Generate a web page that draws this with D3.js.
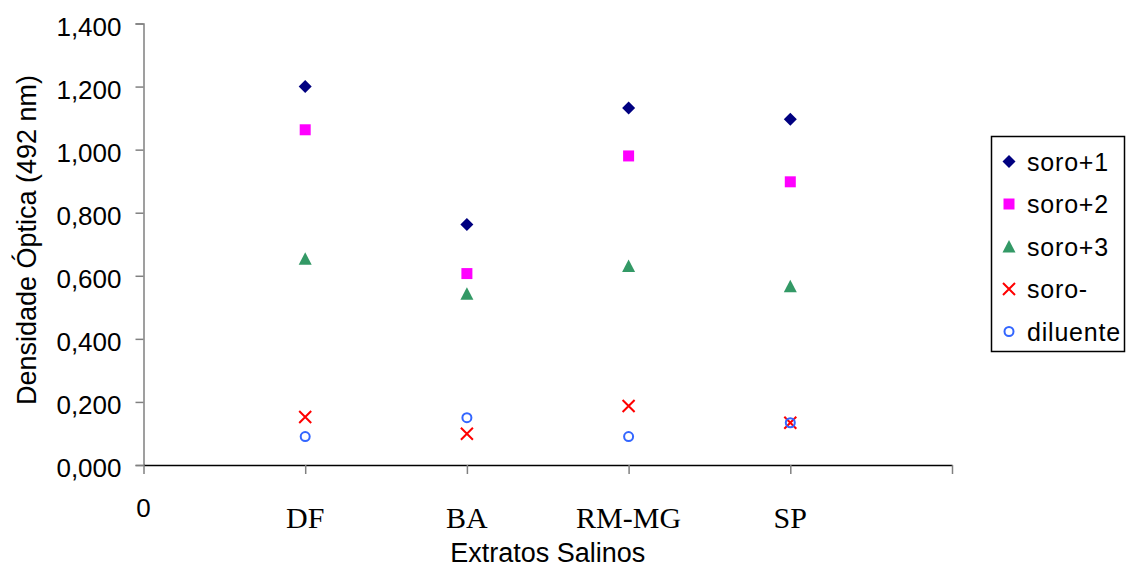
<!DOCTYPE html>
<html>
<head>
<meta charset="utf-8">
<script src="https://cdn.jsdelivr.net/npm/d3@7"></script>
<style>
  html, body { margin: 0; padding: 0; background: #fff; }
  svg { display: block; }
</style>
</head>
<body>
<svg id="chart" width="1126" height="567"></svg>
<script>
// ---- data ----
const categories = ["DF", "BA", "RM-MG", "SP"];
const seriesNames = ["soro+1", "soro+2", "soro+3", "soro-", "diluente"];
const soro1 = [1.200, 0.763, 1.132, 1.096];
const soro2 = [1.063, 0.607, 0.980, 0.898];
const soro3 = [0.654, 0.543, 0.631, 0.567];
const soroNeg = [0.152, 0.099, 0.187, 0.134];
const diluente = [0.090, 0.150, 0.090, 0.134];
const yTicks = [0, 0.2, 0.4, 0.6, 0.8, 1.0, 1.2, 1.4];
const xTicks = [0, 1, 2, 3, 4, 5];
const xZeroLabel = "0";
const yTitle = "Densidade Óptica (492 nm)";
const xTitle = "Extratos Salinos";

const seriesValues = [soro1, soro2, soro3, soroNeg, diluente];
const seriesStyle = [
  { sym: "diamond", color: "#000080", size: 13 },
  { sym: "square", color: "#FF00FF", size: 11 },
  { sym: "triangle", color: "#339966", size: 13 },
  { sym: "x", color: "#FF0000", size: 12 },
  { sym: "o", color: "#3366FF", size: 11 }
];

const SANS = "'Liberation Sans', Arial, sans-serif";
const SERIF = "'Liberation Serif', 'Times New Roman', serif";

const svg = d3.select("#chart");
const x = d3.scaleLinear().domain([0, 5]).range([143.5, 952]);
const y = d3.scaleLinear().domain([0, 1.4]).range([465, 23.5]);
const locale = d3.formatLocale({ decimal: ",", thousands: ".", grouping: [3], currency: ["", ""] });
const fmt = locale.format(".3f");

// y axis
const yAxis = svg.append("g").attr("transform", `translate(${x(0)},0)`)
  .call(d3.axisLeft(y).tickValues(yTicks).tickSize(8).tickFormat(fmt));
yAxis.select(".domain").attr("stroke", "#808080").attr("stroke-width", 1.5);
yAxis.selectAll(".tick line").attr("stroke", "#808080").attr("stroke-width", 1.5);
yAxis.selectAll(".tick text").style("font-family", SANS).style("font-size", "26px")
  .attr("fill", "#000").attr("dy", "0.45em").attr("x", -22);

// x axis
const xAxis = svg.append("g").attr("transform", `translate(0,${y(0)})`)
  .call(d3.axisBottom(x).tickValues(xTicks).tickSize(9).tickSizeOuter(0).tickFormat(""));
xAxis.select(".domain").attr("stroke", "#000").attr("stroke-width", 1.5);
xAxis.selectAll(".tick line").attr("stroke", "#808080").attr("stroke-width", 1.5);

// x labels
svg.append("text").attr("x", x(0)).attr("y", 517).attr("text-anchor", "middle")
  .style("font-family", SANS).style("font-size", "26px").text(xZeroLabel);
svg.selectAll(".cat").data(categories).join("text").attr("class", "cat")
  .attr("x", (d, i) => x(i + 1)).attr("y", 528).attr("text-anchor", "middle")
  .style("font-family", SERIF).style("font-size", "30px")
  .text(d => d);

// titles
svg.append("text").attr("x", (x(0) + x(5)) / 2).attr("y", 562).attr("text-anchor", "middle")
  .style("font-family", SANS).style("font-size", "27px").text(xTitle);
svg.append("text").attr("transform", "translate(36,240) rotate(-90)").attr("text-anchor", "middle")
  .style("font-family", SANS).style("font-size", "27px").text(yTitle);

// markers
function drawMarker(g, st) {
  const h = st.size / 2;
  if (st.sym === "x") {
    g.append("path").attr("d", `M${-h},${-h}L${h},${h}M${-h},${h}L${h},${-h}`)
      .attr("stroke", st.color).attr("stroke-width", 2).attr("fill", "none");
  } else if (st.sym === "o") {
    g.append("circle").attr("r", h - 1).attr("fill", "none")
      .attr("stroke", st.color).attr("stroke-width", 2);
  } else if (st.sym === "diamond") {
    g.append("path").attr("d", `M0,${-h}L${h},0L0,${h}L${-h},0Z`).attr("fill", st.color);
  } else if (st.sym === "square") {
    g.append("path").attr("d", `M${-h},${-h}H${h}V${h}H${-h}Z`).attr("fill", st.color);
  } else if (st.sym === "triangle") {
    g.append("path").attr("d", `M0,${-h}L${h},${h - 0.5}L${-h},${h - 0.5}Z`).attr("fill", st.color);
  }
}

seriesValues.forEach((vals, si) => {
  const st = seriesStyle[si];
  vals.forEach((v, ci) => {
    const g = svg.append("g").attr("transform", `translate(${x(ci + 1)},${y(v)})`);
    drawMarker(g, st);
  });
});

// legend
const legend = svg.append("g");
legend.append("rect").attr("x", 991.5).attr("y", 136.5).attr("width", 133).attr("height", 215)
  .attr("fill", "#fff").attr("stroke", "#000").attr("stroke-width", 1.5);
seriesNames.forEach((name, i) => {
  const cy = 161.5 + i * 42.5;
  const g = legend.append("g").attr("transform", `translate(1009,${cy})`);
  drawMarker(g, seriesStyle[i]);
  legend.append("text").attr("x", 1027).attr("y", cy).attr("dy", "0.36em")
    .style("font-family", SANS).style("font-size", "25px").attr("letter-spacing", 0.8).text(name);
});
</script>
</body>
</html>
